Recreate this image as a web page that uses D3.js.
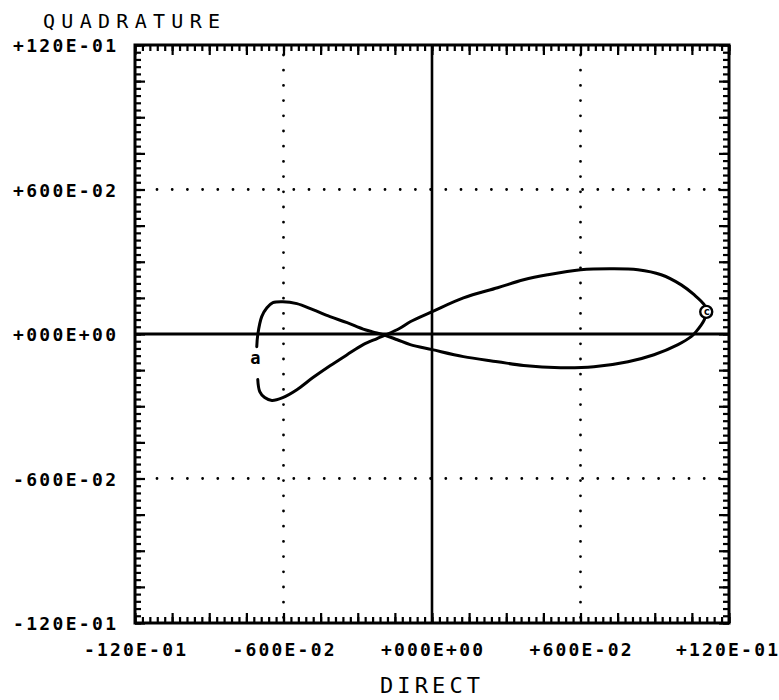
<!DOCTYPE html>
<html lang="en">
<head>
  <meta charset="UTF-8">
  <title>Quadrature vs Direct</title>
  <script src="https://d3js.org/d3.v7.min.js"></script>
  <style>
    body { margin: 0; background: #fff; }
    .lbl { font-family: "DejaVu Sans Mono", monospace; font-weight: bold; font-size: 18px; fill: #000; }
    .title { font-family: "DejaVu Sans Mono", monospace; font-size: 20px; fill: #000; }
  </style>
</head>
<body>
  <svg width="779" height="700"></svg>

  <script>
    // tick values and their plotter labels
    const tickVals = [-12, -6, 0, 6, 12];
    const xTickLabels = ["-120E-01", "-600E-02", "+000E+00", "+600E-02", "+120E-01"];
    const yTickLabels = ["-120E-01", "-600E-02", "+000E+00", "+600E-02", "+120E-01"];

    // traced locus (direct, quadrature)
    const curveX = [-7.04, -6.96, -6.76, -6.47, -6.03, -5.46, -4.81, -4.12, -3.43, -2.78, -2.22, -1.9,
      -1.3, -0.88, 0.01, 1.27, 2.65, 3.70, 4.67, 6.01, 7.23, 8.32, 9.26, 10.07, 10.59, 11.0, 11.08,
      11.0, 10.67, 10.47, 9.94, 8.97, 7.92, 6.54, 5.20, 3.70, 2.65, 1.27, 0.01, -0.88, -1.4, -1.9,
      -2.4, -2.78, -3.43, -4.12, -4.81, -5.46, -6.03, -6.43, -6.67, -6.88, -7.04, -7.08];
    const curveY = [-1.89, -2.39, -2.64, -2.76, -2.64, -2.31, -1.81, -1.32, -0.86, -0.44, -0.19, -0.05,
      0.24, 0.51, 0.93, 1.50, 1.92, 2.25, 2.46, 2.67, 2.71, 2.67, 2.46, 2.04, 1.63, 1.21, 0.92,
      0.59, 0.10, -0.11, -0.44, -0.86, -1.15, -1.36, -1.40, -1.31, -1.15, -0.94, -0.65, -0.44, -0.24, -0.05,
      0.09, 0.2, 0.47, 0.72, 1.01, 1.26, 1.34, 1.30, 1.09, 0.72, -0.03, -0.53];

    // markers on the locus
    const markA = [-7.14, -0.98];
    const markC = [11.08, 0.92];

    const svg = d3.select("svg");
    const x = d3.scaleLinear().domain([-12, 12]).range([135, 729]);
    const y = d3.scaleLinear().domain([-12, 12]).range([623, 45]);

    const minor = d3.range(-12, 12.001, 0.3).map(v => +v.toFixed(2));
    const medium = d3.range(-12, 12.001, 1.5);

    // dotted grid at +-6
    [-6, 6].forEach(v => {
      svg.append("line")
        .attr("x1", x(v)).attr("x2", x(v)).attr("y1", y(12) + 10).attr("y2", y(-12))
        .attr("stroke", "#000").attr("stroke-width", 2.8)
        .attr("stroke-linecap", "round").attr("stroke-dasharray", "0 15.2");
      svg.append("line")
        .attr("y1", y(v)).attr("y2", y(v)).attr("x1", x(-12) + 22).attr("x2", x(12))
        .attr("stroke", "#000").attr("stroke-width", 2.8)
        .attr("stroke-linecap", "round").attr("stroke-dasharray", "0 15.2");
    });

    // axis lines through zero
    svg.append("line").attr("x1", x(0)).attr("x2", x(0)).attr("y1", y(12)).attr("y2", y(-12))
      .attr("stroke", "#000").attr("stroke-width", 2.6);
    svg.append("line").attr("x1", x(-12)).attr("x2", x(12)).attr("y1", y(0)).attr("y2", y(0))
      .attr("stroke", "#000").attr("stroke-width", 3);

    // inward tick marks on all four sides
    function ticks(axisFn, vals, size, transform) {
      const g = svg.append("g").attr("transform", transform)
        .call(axisFn.tickValues(vals).tickSize(size).tickFormat(""));
      g.select(".domain").remove();
      g.selectAll(".tick line").attr("stroke", "#000").attr("stroke-width", 2.2);
    }
    ticks(d3.axisBottom(x), minor, -6, `translate(0,${y(-12)})`);
    ticks(d3.axisBottom(x), medium, -10, `translate(0,${y(-12)})`);
    ticks(d3.axisTop(x), minor, -6, `translate(0,${y(12)})`);
    ticks(d3.axisTop(x), medium, -10, `translate(0,${y(12)})`);
    ticks(d3.axisLeft(y), minor, -6, `translate(${x(-12)},0)`);
    ticks(d3.axisLeft(y), medium, -10, `translate(${x(-12)},0)`);
    ticks(d3.axisRight(y), minor, -6, `translate(${x(12)},0)`);
    ticks(d3.axisRight(y), medium, -10, `translate(${x(12)},0)`);

    // frame
    svg.append("rect")
      .attr("x", x(-12)).attr("y", y(12))
      .attr("width", x(12) - x(-12)).attr("height", y(-12) - y(12))
      .attr("fill", "none").attr("stroke", "#000").attr("stroke-width", 3);

    // tick labels
    svg.selectAll(".xl").data(tickVals).enter().append("text")
      .attr("class", "lbl")
      .attr("x", d => d === 12 ? x(d) - 2 : x(d)).attr("y", 656)
      .attr("text-anchor", "middle")
      .attr("textLength", 102).attr("lengthAdjust", "spacing")
      .text((d, i) => xTickLabels[i]);
    svg.selectAll(".yl").data(tickVals).enter().append("text")
      .attr("class", "lbl")
      .attr("x", 116).attr("y", d => y(d) + 7)
      .attr("text-anchor", "end")
      .attr("textLength", 103).attr("lengthAdjust", "spacing")
      .text((d, i) => yTickLabels[i]);

    // axis titles
    svg.append("text").attr("class", "title")
      .attr("x", 43).attr("y", 28)
      .attr("textLength", 177).attr("lengthAdjust", "spacing")
      .text("QUADRATURE");
    svg.append("text").attr("class", "title")
      .attr("x", 380).attr("y", 693)
      .attr("textLength", 100).attr("lengthAdjust", "spacing")
      .style("font-size", "22px")
      .text("DIRECT");

    // the locus
    const pts = curveX.map((d, i) => [d, curveY[i]]);
    const line = d3.line().x(d => x(d[0])).y(d => y(d[1])).curve(d3.curveCatmullRom);
    svg.append("path").datum(pts)
      .attr("d", line)
      .attr("fill", "none").attr("stroke", "#000").attr("stroke-width", 3)
      .attr("stroke-linejoin", "round").attr("stroke-linecap", "round");

    // markers
    svg.append("text").attr("class", "lbl")
      .attr("x", x(markA[0])).attr("y", y(markA[1]) + 6)
      .attr("text-anchor", "middle").style("font-size", "17px")
      .text("a");
    svg.append("circle")
      .attr("cx", x(markC[0])).attr("cy", y(markC[1])).attr("r", 6)
      .attr("fill", "#fff").attr("stroke", "#000").attr("stroke-width", 2.4);
    svg.append("text").attr("class", "lbl")
      .attr("x", x(markC[0]) + 0.5).attr("y", y(markC[1]) + 3.5)
      .attr("text-anchor", "middle").style("font-size", "11px")
      .text("c");
  </script>
</body>
</html>
